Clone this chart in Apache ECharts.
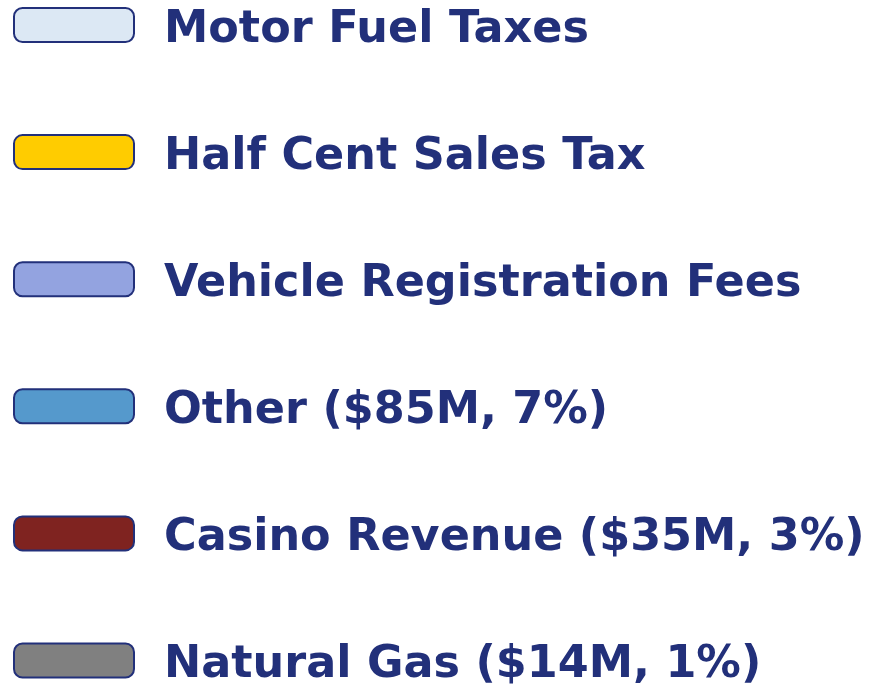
<!DOCTYPE html>
<html>
<head>
<meta charset="utf-8">
<script src="https://cdn.jsdelivr.net/npm/echarts@6/dist/echarts.min.js"></script>
<style>
    html, body { margin: 0; padding: 0; background: #ffffff; }
    #main { width: 881px; height: 689px; }
</style>
</head>
<body>
<div id="main"></div>
<script>
// 图例名称与颜色
var legendNames = [
    'Motor Fuel Taxes',
    'Half Cent Sales Tax',
    'Vehicle Registration Fees',
    'Other ($85M, 7%)',
    'Casino Revenue ($35M, 3%)',
    'Natural Gas ($14M, 1%)'
];
var swatchColors = ['#dce8f4', '#ffcc00', '#93a3e0', '#5599cc', '#7f2320', '#808080'];

var myChart = echarts.init(document.getElementById('main'));

var seriesList = [];
for (var i = 0; i < legendNames.length; i++) {
    seriesList.push({
        name: legendNames[i],
        type: 'bar',
        data: [],
        itemStyle: {
            color: swatchColors[i],
            borderColor: '#22307a',
            borderWidth: 2
        }
    });
}

var labelFont = {
    color: '#22307a',
    fontFamily: 'DejaVu Sans',
    fontWeight: 'bold',
    fontSize: 44.5,
    lineHeight: 34
};

myChart.setOption({
    animation: false,
    legend: {
        orient: 'vertical',
        left: 13,
        top: 3,
        padding: 0,
        icon: 'roundRect',
        itemWidth: 120,
        itemHeight: 34,
        itemGap: 77.6,
        selectedMode: false,
        data: legendNames,
        formatter: '{t|{name}}',
        textStyle: {
            color: labelFont.color,
            fontFamily: labelFont.fontFamily,
            fontWeight: labelFont.fontWeight,
            fontSize: labelFont.fontSize,
            lineHeight: labelFont.lineHeight,
            padding: [10, 0, 0, 25],
            rich: {
                t: labelFont
            }
        }
    },
    grid: { left: -100, top: -100, width: 10, height: 10 },
    xAxis: { type: 'category', show: false, data: [] },
    yAxis: { type: 'value', show: false },
    series: seriesList
});
</script>
</body>
</html>
